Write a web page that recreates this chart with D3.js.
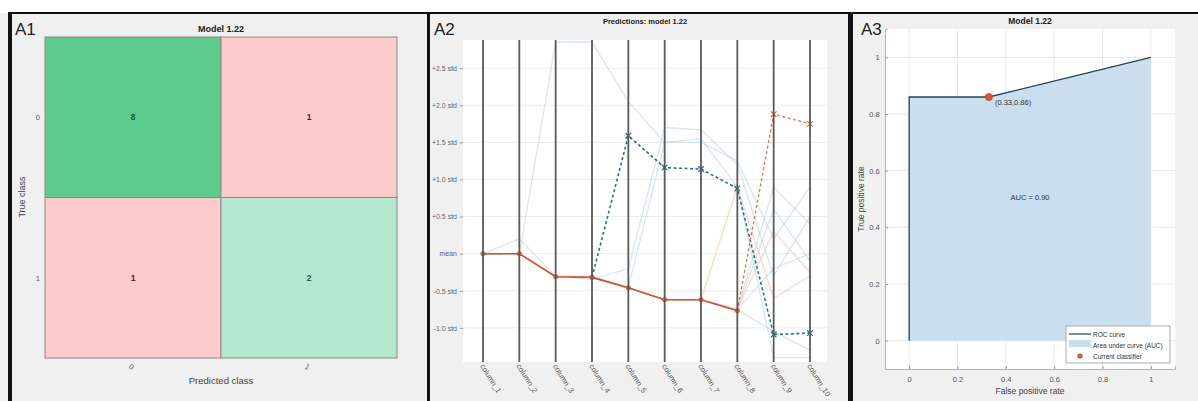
<!DOCTYPE html>
<html><head><meta charset="utf-8">
<script src="https://cdn.jsdelivr.net/npm/d3@7"></script>
<style>
html,body{margin:0;padding:0;background:#fff;}
svg{display:block;font-family:"Liberation Sans",Arial,sans-serif;}
</style></head><body>
<svg id="c" width="1198" height="401"></svg>
<script>
// ---------- DATA ----------
// A1: confusion matrix
const trueClasses = ["0", "1"];
const predClasses = ["0", "1"];
const cmCounts = [[8, 1], [1, 2]];

// A2: parallel coordinates (values in std from mean)
const columns = ["column_1","column_2","column_3","column_4","column_5","column_6","column_7","column_8","column_9","column_10"];
const stdTicks = [2.5, 2.0, 1.5, 1.0, 0.5, 0, -0.5, -1.0];
const stdTickLabels = ["+2.5 std","+2.0 std","+1.5 std","+1.0 std","+0.5 std","mean","-0.5 std","-1.0 std"];
const obsOrange = [0, 0, -0.31, -0.32, -0.46, -0.62, -0.62, -0.77, 1.88, 1.75];
const obsBlue   = [0, 0, -0.31, -0.32, 1.59, 1.16, 1.14, 0.88, -1.09, -1.07];
const faintBlue = [
  [0, 0, 2.85, 2.85, 2.05, 1.5, 1.5, 1.25, 0.2, 0.9],
  [0, 0.2, -0.3, -0.35, -0.2, 1.7, 1.67, 1.2, -0.3, 0.5],
  [0, 0, -0.3, -0.3, -0.45, 1.5, 1.55, 0.9, -1.4, -1.4],
  [0, 0, -0.31, -0.32, -0.46, -0.62, -0.62, -0.75, 0.6, -0.1],
  [0, 0, -0.31, -0.32, -0.46, -0.62, -0.62, -0.75, -0.2, 0.0],
  [0, 0, -0.31, -0.32, -0.46, -0.62, -0.62, -0.75, 0.9, 0.4],
  [0, 0, -0.31, -0.32, -0.46, -0.62, -0.62, -0.75, -1.05, -1.3]
];
const faintOrange = [
  [0, 0, -0.31, -0.32, -0.46, -0.62, -0.62, 0.9, -0.6, -0.3],
  [0, 0, -0.31, -0.32, -0.46, -0.62, -0.62, -0.75, 0.3, -0.25]
];

// A3: ROC
const rocFPR = [0, 0, 0.33, 1];
const rocTPR = [0, 0.86, 0.86, 1];
const currentFPR = 0.33, currentTPR = 0.86;
const aucValue = 0.90;
const rateTicks = [0, 0.2, 0.4, 0.6, 0.8, 1];
const legendLabels = ["ROC curve", "Area under curve (AUC)", "Current classifier"];

// ---------- FRAME ----------
const svg = d3.select("#c");
svg.append("rect").attr("x",0).attr("y",13).attr("width",1198).attr("height",388).attr("fill","#f0f0f0");
svg.append("rect").attr("x",8).attr("y",12).attr("width",1190).attr("height",2).attr("fill","#111");
svg.append("rect").attr("x",8).attr("y",12).attr("width",4).attr("height",389).attr("fill","#111");
svg.append("rect").attr("x",427).attr("y",12).attr("width",3).attr("height",389).attr("fill","#111");
svg.append("rect").attr("x",848).attr("y",12).attr("width",5).attr("height",389).attr("fill","#111");
[["A1",15],["A2",434],["A3",861]].forEach(([t,x])=>{
  svg.append("text").attr("x",x).attr("y",35).attr("font-size",17).attr("fill","#222").text(t);
});

// ---------- A1 ----------
{
  const g = svg.append("g");
  const x = d3.scaleBand().domain(predClasses).range([45,397]);
  const y = d3.scaleBand().domain(trueClasses).range([37,358]);
  const maxDiag = d3.max(trueClasses.map((_,i)=>cmCounts[i][i]));
  const cells = [];
  trueClasses.forEach((t,i)=>predClasses.forEach((p,j)=>cells.push({t,p,v:cmCounts[i][j],diag:i===j})));
  g.selectAll("rect.cell").data(cells).join("rect").attr("class","cell")
    .attr("x",d=>x(d.p)).attr("y",d=>y(d.t)).attr("width",x.bandwidth()).attr("height",y.bandwidth())
    .attr("fill",d=>d.diag ? (d.v===maxDiag ? "#5dcb8b" : "#b4e8cf") : "#fdcbcb")
    .attr("stroke","#8a8a8a").attr("stroke-width",1);
  g.selectAll("text.val").data(cells).join("text").attr("class","val")
    .attr("x",d=>x(d.p)+x.bandwidth()/2).attr("y",d=>y(d.t)+y.bandwidth()/2+3)
    .attr("text-anchor","middle").attr("font-size",8.5).attr("font-weight","bold")
    .attr("fill",d=>d.diag?"#1e5a38":"#4a2a2a").text(d=>d.v);
  g.selectAll("text.yl").data(trueClasses).join("text").attr("class","yl")
    .attr("x",40).attr("y",d=>y(d)+y.bandwidth()/2+3).attr("text-anchor","end")
    .attr("font-size",7.5).attr("fill","#555").text(d=>d);
  g.selectAll("text.xl").data(predClasses).join("text").attr("class","xl")
    .attr("transform",d=>`translate(${x(d)+x.bandwidth()/2-3},369) rotate(30)`)
    .attr("text-anchor","middle").attr("font-size",7.5).attr("fill","#555").text(d=>d);
  g.append("text").attr("x",221).attr("y",384).attr("text-anchor","middle").attr("font-size",9.5).attr("fill","#444").text("Predicted class");
  g.append("text").attr("transform","translate(25,197) rotate(-90)").attr("text-anchor","middle").attr("font-size",9).attr("fill","#444").text("True class");
  g.append("text").attr("x",221).attr("y",32).attr("text-anchor","middle").attr("font-size",9).attr("font-weight","bold").attr("fill","#222").text("Model 1.22");
}

// ---------- A2 ----------
{
  const g = svg.append("g");
  const x = d3.scalePoint().domain(columns).range([483,810]);
  const y = d3.scaleLinear().domain([-1.46,2.88]).range([362,40]);
  g.append("rect").attr("x",463).attr("y",40).attr("width",364).attr("height",322).attr("fill","#fff");
  g.append("clipPath").attr("id","clipA2").append("rect").attr("x",463).attr("y",40).attr("width",364).attr("height",322);
  g.selectAll("line.grid").data(stdTicks).join("line").attr("class","grid")
    .attr("x1",463).attr("x2",827).attr("y1",d=>y(d)).attr("y2",d=>y(d)).attr("stroke","#ebebeb").attr("stroke-width",1);
  const yAxis = d3.axisLeft(y).tickValues(stdTicks).tickFormat((d,i)=>stdTickLabels[i]).tickSize(3);
  const ya = g.append("g").attr("transform","translate(463,0)").call(yAxis);
  ya.select(".domain").remove();
  ya.selectAll("line").attr("stroke","#999");
  ya.selectAll("text").attr("font-size",7).attr("fill","#666").attr("font-family","Liberation Sans, Arial, sans-serif");

  const line = d3.line().x((d,i)=>x(columns[i])).y(d=>y(d));
  const cg = g.append("g").attr("clip-path","url(#clipA2)");
  cg.selectAll("path.fb").data(faintBlue).join("path").attr("class","fb")
    .attr("d",line).attr("fill","none").attr("stroke","#b9cfe2").attr("stroke-opacity",0.55).attr("stroke-width",1.3);
  cg.selectAll("path.fo").data(faintOrange).join("path").attr("class","fo")
    .attr("d",line).attr("fill","none").attr("stroke","#f3c2a6").attr("stroke-opacity",0.6).attr("stroke-width",1.3);

  // vertical axes
  g.selectAll("line.ax").data(columns).join("line").attr("class","ax")
    .attr("x1",d=>x(d)).attr("x2",d=>x(d)).attr("y1",40).attr("y2",362).attr("stroke","#5a5a5a").attr("stroke-width",1.8);

  const segs = (vals, from, to) => vals.map((v,i)=>[i,v]).filter(d=>d[0]>=from && d[0]<=to);
  const line2 = d3.line().x(d=>x(columns[d[0]])).y(d=>y(d[1]));
  cg.append("path").attr("d",line2(segs(obsBlue,3,9))).attr("fill","none")
    .attr("stroke","#2a6f9a").attr("stroke-width",1.6).attr("stroke-dasharray","3,2.5");
  cg.append("path").attr("d",line2(segs(obsOrange,7,9))).attr("fill","none")
    .attr("stroke","#e07a4f").attr("stroke-width",1.4).attr("stroke-dasharray","3,2.5");
  cg.append("path").attr("d",line2(segs(obsOrange,0,7))).attr("fill","none")
    .attr("stroke","#c8582c").attr("stroke-width",1.6);
  cg.selectAll("path.bm").data(segs(obsBlue,4,9)).join("path").attr("class","bm")
    .attr("transform",d=>`translate(${x(columns[d[0]])},${y(d[1])})`)
    .attr("d",d3.symbol(d3.symbolX,22)).attr("stroke","#2a6f9a").attr("stroke-width",1.3).attr("fill","none");
  cg.selectAll("circle.om").data(segs(obsOrange,0,7)).join("circle").attr("class","om")
    .attr("cx",d=>x(columns[d[0]])).attr("cy",d=>y(d[1])).attr("r",2.2).attr("fill","#d8693e").attr("stroke","#b54a22").attr("stroke-width",0.6);
  cg.selectAll("path.om2").data(segs(obsOrange,8,9)).join("path").attr("class","om2")
    .attr("transform",d=>`translate(${x(columns[d[0]])},${y(d[1])})`)
    .attr("d",d3.symbol(d3.symbolX,22)).attr("stroke","#d8693e").attr("stroke-width",1.2).attr("fill","none");

  g.selectAll("text.cl").data(columns).join("text").attr("class","cl")
    .attr("transform",d=>`translate(${x(d)-3},366) rotate(58)`)
    .attr("font-size",7.5).attr("fill","#555").text(d=>d);
  g.append("text").attr("x",645).attr("y",24).attr("text-anchor","middle").attr("font-size",7.5).attr("font-weight","bold").attr("fill","#222").text("Predictions: model 1.22");
}

// ---------- A3 ----------
{
  const g = svg.append("g");
  const x = d3.scaleLinear().domain([-0.1,1.1]).range([885,1175]);
  const y = d3.scaleLinear().domain([-0.1,1.1]).range([369,29]);
  g.append("rect").attr("x",885).attr("y",29).attr("width",290).attr("height",340).attr("fill","#fff");
  g.selectAll("line.gx").data(rateTicks).join("line").attr("class","gx")
    .attr("x1",d=>x(d)).attr("x2",d=>x(d)).attr("y1",29).attr("y2",369).attr("stroke","#e8e8e8");
  g.selectAll("line.gy").data(rateTicks).join("line").attr("class","gy")
    .attr("y1",d=>y(d)).attr("y2",d=>y(d)).attr("x1",885).attr("x2",1175).attr("stroke","#e8e8e8");
  const pts = rocFPR.map((f,i)=>[f,rocTPR[i]]);
  const area = d3.area().x(d=>x(d[0])).y0(y(0)).y1(d=>y(d[1]));
  g.append("path").attr("d",area(pts)).attr("fill","#c9dfef");
  const ln = d3.line().x(d=>x(d[0])).y(d=>y(d[1]));
  g.append("path").attr("d",ln(pts)).attr("fill","none").attr("stroke","#24424f").attr("stroke-width",1.3);
  g.append("circle").attr("cx",x(currentFPR)).attr("cy",y(currentTPR)).attr("r",3.6).attr("fill","#e0512f").attr("stroke","#c8401f").attr("stroke-width",0.6);
  g.append("text").attr("x",x(currentFPR)+6).attr("y",y(currentTPR)+8).attr("font-size",7.5).attr("fill","#333")
    .text(`(${currentFPR.toFixed(2)},${currentTPR.toFixed(2)})`);
  g.append("text").attr("x",1030).attr("y",200).attr("text-anchor","middle").attr("font-size",7.5).attr("fill","#333").text(`AUC = ${aucValue.toFixed(2)}`);

  const xa = g.append("g").attr("transform","translate(0,369)").call(d3.axisBottom(x).tickValues(rateTicks).tickFormat(d3.format("~g")).tickSize(-3));
  const ya = g.append("g").attr("transform","translate(885,0)").call(d3.axisLeft(y).tickValues(rateTicks).tickFormat(d3.format("~g")).tickSize(-3));
  [xa,ya].forEach(a=>{
    a.select(".domain").attr("stroke","#b5b5b5");
    a.selectAll(".tick line").attr("stroke","#999");
    a.selectAll("text").attr("font-size",7.5).attr("fill","#555").attr("font-family","Liberation Sans, Arial, sans-serif");
  });
  xa.selectAll("text").attr("dy","1.3em");
  ya.selectAll("text").attr("dx","-0.3em");
  g.append("text").attr("x",1030).attr("y",394).attr("text-anchor","middle").attr("font-size",8.5).attr("fill","#444").text("False positive rate");
  g.append("text").attr("transform","translate(864,199) rotate(-90)").attr("text-anchor","middle").attr("font-size",8.5).attr("fill","#444").text("True positive rate");
  g.append("text").attr("x",1030).attr("y",24).attr("text-anchor","middle").attr("font-size",8.5).attr("font-weight","bold").attr("fill","#222").text("Model 1.22");

  // legend
  const lg = g.append("g").attr("transform","translate(1066,326)");
  lg.append("rect").attr("width",104).attr("height",37).attr("fill","#fff").attr("stroke","#999").attr("stroke-width",0.8);
  lg.append("line").attr("x1",3).attr("x2",25).attr("y1",8).attr("y2",8).attr("stroke","#24424f").attr("stroke-width",1.2);
  lg.append("rect").attr("x",3).attr("y",14).attr("width",22).attr("height",7).attr("fill","#c9dfef");
  lg.append("circle").attr("cx",14).attr("cy",30).attr("r",2.6).attr("fill","#d85a35");
  lg.selectAll("text").data(legendLabels).join("text").attr("x",27).attr("y",(d,i)=>10.5+i*11)
    .attr("font-size",6.5).attr("fill","#333").text(d=>d);
}
</script>
</body></html>
